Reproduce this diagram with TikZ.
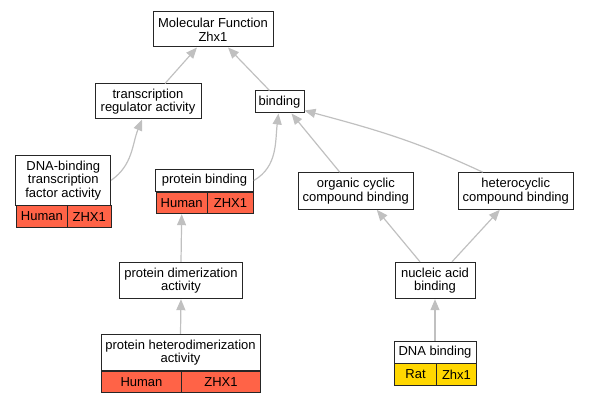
\documentclass[tikz,border=0pt]{standalone}
\usepackage{fontspec}
\setmainfont{Liberation Sans}
\usetikzlibrary{arrows.meta}

\definecolor{human}{HTML}{FF6347}
\definecolor{rat}{HTML}{FFD700}
\definecolor{edgegray}{HTML}{C0C0C0}

\begin{document}
\begin{tikzpicture}[x=1pt,y=1pt,font=\fontsize{13}{13.6}\selectfont]
    \tikzstyle{term} = [rectangle, draw=black!85, line width=1pt, fill=white, inner sep=0pt, align=center]
    \tikzstyle{cell} = [rectangle, draw=black!85, line width=1pt, inner sep=0pt, anchor=north west, minimum height=21.5pt]
    \tikzstyle{isa} = [draw=edgegray, line width=1.2pt, -{Triangle[length=11pt,width=9pt]}]

    \useasboundingbox (0,0) rectangle (589,-403);

    %%% DRAW THE NODES
    \node[term, minimum width=120pt, minimum height=35pt] (MF) at (213,-29.5) {Molecular Function\\Zhx1};
    \node[term, minimum width=106pt, minimum height=35pt] (TRA) at (148,-101.5) {transcription\\regulator activity};
    \node[term, minimum width=49pt, minimum height=22pt] (BIND) at (279.5,-102) {binding};

    \node[term, minimum width=94.7pt, minimum height=50pt] (DTF) at (63.3,-180.3) {DNA-binding\\transcription\\factor activity};
    \node[cell, fill=human, minimum width=50.7pt] (DTF-sp) at (16,-205.3) {Human};
    \node[cell, fill=human, minimum width=44pt] (DTF-gn) at (66.7,-205.3) {ZHX1};

    \node[term, minimum width=97.6pt, minimum height=22.4pt] (PB) at (204.5,-180.5) {protein binding};
    \node[cell, fill=human, minimum width=51pt] (PB-sp) at (155.7,-191.7) {Human};
    \node[cell, fill=human, minimum width=46.6pt] (PB-gn) at (206.7,-191.7) {ZHX1};

    \node[term, minimum width=115pt, minimum height=36.6pt] (OCC) at (355.8,-191) {organic cyclic\\compound binding};
    \node[term, minimum width=115pt, minimum height=36.6pt] (HCC) at (515.8,-191) {heterocyclic\\compound binding};

    \node[term, minimum width=123.4pt, minimum height=36.4pt] (PDA) at (181,-280.5) {protein dimerization\\activity};
    \node[term, minimum width=80pt, minimum height=36.4pt] (NAB) at (435,-280.5) {nucleic acid\\binding};

    \node[term, minimum width=159pt, minimum height=36.4pt] (PHA) at (180.5,-352.5) {protein heterodimerization\\activity};
    \node[cell, fill=human, minimum width=80pt] (PHA-sp) at (101,-370.7) {Human};
    \node[cell, fill=human, minimum width=79pt] (PHA-gn) at (181,-370.7) {ZHX1};

    \node[term, minimum width=82pt, minimum height=21.6pt] (DB) at (435,-352.5) {DNA binding};
    \node[cell, fill=rat, minimum width=42pt] (DB-sp) at (394,-363.3) {Rat};
    \node[cell, fill=rat, minimum width=40pt] (DB-gn) at (436,-363.3) {Zhx1};

    %%% DRAW THE PATHS
    \draw[isa] ([xshift=17pt]TRA.north) -- ([xshift=-16pt]MF.south);
    \draw[isa] ([xshift=-10pt]BIND.north) -- ([xshift=15pt]MF.south);
    \draw[isa] (DTF.east) to[out=35, in=-112] ([xshift=-6pt]TRA.south);
    \draw[isa] (PB.east) to[out=30, in=-97] ([xshift=-1pt]BIND.south);
    \draw[isa] ([xshift=-16pt]OCC.north) -- ([xshift=12pt]BIND.south);
    \draw[isa] ([xshift=-33pt]HCC.north) to[out=155, in=-15] ([yshift=3pt]BIND.south east);
    \draw[isa] (PDA.north) -- (PB-sp.south);
    \draw[isa] (PHA.north) -- (PDA.south);
    \draw[isa] ([xshift=-15pt]NAB.north) -- ([xshift=21pt]OCC.south);
    \draw[isa] ([xshift=17pt]NAB.north) -- ([xshift=-16pt]HCC.south);
    \draw[isa] (DB.north) -- (NAB.south);

\end{tikzpicture}
\end{document}
